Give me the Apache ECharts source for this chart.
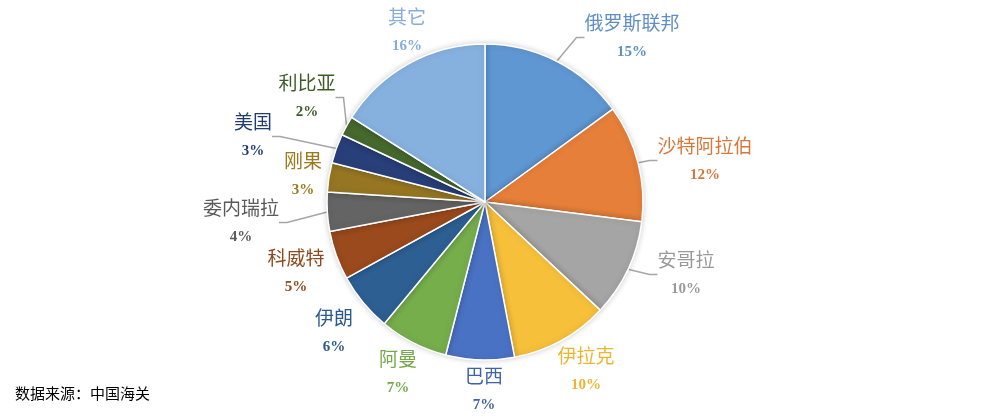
<!DOCTYPE html>
<html><head><meta charset="utf-8">
<script src="https://cdn.jsdelivr.net/npm/echarts@6/dist/echarts.min.js"></script>
<style>html,body{margin:0;padding:0;background:#fff}#c{width:1004px;height:420px}</style>
</head><body><div id="c"></div>
<script>
const categories = ['俄罗斯联邦','沙特阿拉伯','安哥拉','伊拉克','巴西','阿曼','伊朗','科威特','委内瑞拉','刚果','美国','利比亚','其它'];
const values = [15,12,10,10,7,7,6,5,4,3,3,2,16];
const colors = ['#5F97D2','#E57F3A','#A5A5A5','#F7C03A','#4A72C4','#76AE4C','#2D5F93','#9A4A1C','#646464','#967623','#293F7A','#46692E','#86B1DF'];
const textColors = ['#5F8FC4','#D9773A','#9A9A9A','#EDB530','#3F63A8','#76A94C','#2D5A8C','#8E4A1E','#5A5A5A','#9A7A1E','#233C70','#3E5C28','#86AEDA'];
const showLine = [true,true,true,false,false,false,false,false,true,false,true,true,false];
// label centre positions (pixel), tuned to reference
const labelPos = [[632,38],[705,161],[686,275],[586,371],[484,391],[398,374],[334,333],[296,273],[241,223],[303,176],[253,137],[307,98],[407,32]];

const chart = echarts.init(document.getElementById('c'));
const data = categories.map((n,i)=>({
  name:n, value:values[i],
  itemStyle:{color:colors[i]},
  label:{color:textColors[i], rich:{n:{color:textColors[i],fontSize:19,fontFamily:'"Liberation Serif","Noto Sans CJK SC",serif',lineHeight:28,fontWeight:'normal'},p:{color:textColors[i],fontSize:15,fontFamily:'"Liberation Serif",serif',fontWeight:'bold',lineHeight:26}}},
  labelLine:{show:showLine[i]}
}));
chart.setOption({
  animation:false,
  series:[{
    type:'pie',
    center:[485,202],
    radius:[0,158],
    startAngle:90,
    clockwise:true,
    data:data,
    itemStyle:{borderColor:'#fff',borderWidth:1.5,shadowBlur:6,shadowColor:'rgba(0,0,0,0.18)'},
    label:{show:true,position:'outside',formatter:p=>'{n|'+p.name+'}\n{p|'+p.value+'%}',align:'center'},
    labelLine:{show:true,length:8,length2:8,lineStyle:{color:'#a6a6a6',width:1.5}},
    labelLayout:function(params){
      const p = labelPos[params.dataIndex];
      return {x:p[0],y:p[1],align:'center',verticalAlign:'middle'};
    }
  }],
  graphic:[{type:'text',left:15,top:386,style:{text:'数据来源：中国海关',font:'15px "Noto Sans CJK SC", sans-serif',fill:'#000'}}]
});
</script></body></html>
